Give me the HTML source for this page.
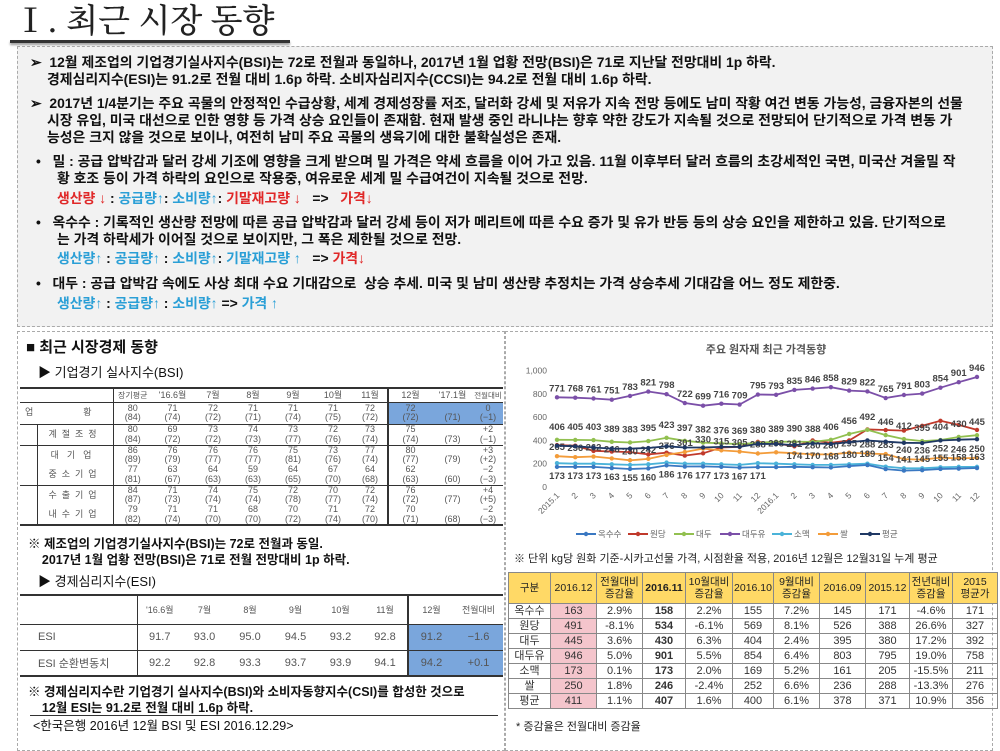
<!DOCTYPE html>
<html><head><meta charset="utf-8">
<style>
*{margin:0;padding:0;box-sizing:border-box}
body{width:1000px;height:739px;overflow:hidden;background:#fff;position:relative;font-family:"Liberation Sans","Noto Sans CJK KR","NanumGothic",sans-serif;color:#111}
.a{position:absolute;white-space:nowrap}
.t{font-size:13.9px;font-weight:bold;line-height:16px}
.r{color:#e02828}.b{color:#2a9fd6}
table{border-collapse:collapse;position:absolute;table-layout:fixed;font-family:"Liberation Sans","Noto Sans CJK KR",sans-serif}
.bsi td{font-size:9px;color:#555;text-align:center;line-height:9.5px;padding:0;white-space:nowrap;overflow:hidden}
.esi td{font-size:11px;color:#555;text-align:center;padding:0}
.pt td{font-size:11px;color:#333;text-align:center;border:1px solid #888;padding:0;line-height:14px}
.pt tr.h td{background:#ffd966;font-size:10.5px;line-height:12px;color:#222}
.pk{background:#f4c5cc}
</style></head><body>
<div class="a" style="left:14px;top:-2px;font-family:'Noto Serif CJK SC','Liberation Serif',serif;font-size:33px;line-height:42px;color:#222;font-weight:500">Ⅰ. 최근 시장 동향</div>
<div class="a" style="left:10px;top:40px;width:280px;height:3px;background:#333;box-shadow:0 2px 2px #999"></div>

<div class="a" style="left:17px;top:46px;width:976px;height:281px;background:#f2f2f2;border:1px dashed #aaa"></div>
<div class="a t" style="left:30px;top:54px">➢&nbsp; 12월 제조업의 기업경기실사지수(BSI)는 72로 전월과 동일하나, 2017년 1월 업황 전망(BSI)은 71로 지난달 전망대비 1p 하락.</div>
<div class="a t" style="left:47px;top:71px">경제심리지수(ESI)는 91.2로 전월 대비 1.6p 하락. 소비자심리지수(CCSI)는 94.2로 전월 대비 1.6p 하락.</div>
<div class="a t" style="left:30px;top:95px">➢&nbsp; 2017년 1/4분기는 주요 곡물의 안정적인 수급상황, 세계 경제성장률 저조, 달러화 강세 및 저유가 지속 전망 등에도 남미 작황 여건 변동 가능성, 금융자본의 선물</div>
<div class="a t" style="left:47px;top:112px">시장 유입, 미국 대선으로 인한 영향 등 가격 상승 요인들이 존재함. 현재 발생 중인 라니냐는 향후 약한 강도가 지속될 것으로 전망되어 단기적으로 가격 변동 가</div>
<div class="a t" style="left:47px;top:129px">능성은 크지 않을 것으로 보이나, 여전히 남미 주요 곡물의 생육기에 대한 불확실성은 존재.</div>
<div class="a t" style="left:36px;top:153px">•&nbsp;&nbsp; 밀 : 공급 압박감과 달러 강세 기조에 영향을 크게 받으며 밀 가격은 약세 흐름을 이어 가고 있음. 11월 이후부터 달러 흐름의 초강세적인 국면, 미국산 겨울밀 작</div>
<div class="a t" style="left:57px;top:170px">황 호조 등이 가격 하락의 요인으로 작용중, 여유로운 세계 밀 수급여건이 지속될 것으로 전망.</div>
<div class="a t" style="left:57px;top:190px"><span class="r">생산량 ↓</span> : <span class="b">공급량↑</span>: <span class="b">소비량↑</span>: <span class="r">기말재고량 ↓</span>&nbsp;&nbsp; =&gt;&nbsp;&nbsp; <span class="r">가격↓</span></div>
<div class="a t" style="left:36px;top:214px">•&nbsp;&nbsp; 옥수수 : 기록적인 생산량 전망에 따른 공급 압박감과 달러 강세 등이 저가 메리트에 따른 수요 증가 및 유가 반등 등의 상승 요인을 제한하고 있음. 단기적으로</div>
<div class="a t" style="left:57px;top:231px">는 가격 하락세가 이어질 것으로 보이지만, 그 폭은 제한될 것으로 전망.</div>
<div class="a t" style="left:57px;top:250px"><span class="b">생산량↑</span> : <span class="b">공급량↑</span> : <span class="b">소비량↑</span>: <span class="b">기말재고량 ↑</span>&nbsp;&nbsp; =&gt; <span class="r">가격↓</span></div>
<div class="a t" style="left:36px;top:275px">•&nbsp;&nbsp; 대두 : 공급 압박감 속에도 사상 최대 수요 기대감으로&nbsp; 상승 추세. 미국 및 남미 생산량 추정치는 가격 상승추세 기대감을 어느 정도 제한중.</div>
<div class="a t" style="left:57px;top:295px"><span class="b">생산량↑</span> : <span class="b">공급량↑</span> : <span class="b">소비량↑</span> =&gt; <span class="b">가격 ↑</span></div>

<div class="a" style="left:17px;top:331px;width:488px;height:420px;border:1px dashed #aaa"></div>
<div class="a" style="left:505px;top:331px;width:488px;height:420px;border:1px dashed #aaa"></div>

<div class="a" style="left:26px;top:338px;font-size:15px;font-weight:bold;line-height:20px">■ 최근 시장경제 동향</div>
<div class="a" style="left:38px;top:364px;font-size:13px;line-height:18px">▶ 기업경기 실사지수(BSI)</div>

<table class="bsi" style="left:20px;top:387px;width:483px;border-top:2px solid #333;border-bottom:2px solid #333">
<colgroup><col style="width:17px"><col style="width:76px"><col style="width:39px"><col style="width:41px"><col style="width:40px"><col style="width:40px"><col style="width:40px"><col style="width:40px"><col style="width:35px"><col style="width:44px"><col style="width:41px"><col style="width:30px"></colgroup>
<tr style="height:14px;border-bottom:1px solid #333"><td colspan="2"></td><td style="border-left:1px solid #333;font-size:8px">장기평균</td><td>'16.6월</td><td>7월</td><td>8월</td><td>9월</td><td>10월</td><td>11월</td><td style="border-left:2px solid #333">12월</td><td>'17.1월</td><td style="font-size:7.5px">전월대비</td></tr>
<tr style="height:22px;border-bottom:1px solid #333"><td colspan="2" style="text-align:left;padding-left:5px">업&nbsp;&nbsp;&nbsp;&nbsp;&nbsp;&nbsp;&nbsp;&nbsp;&nbsp;&nbsp;&nbsp;&nbsp;&nbsp;&nbsp;&nbsp;&nbsp;&nbsp;&nbsp;&nbsp;&nbsp;황</td><td style="border-left:1px solid #333">80<br>(84)</td><td>71<br>(74)</td><td>72<br>(72)</td><td>71<br>(71)</td><td>71<br>(74)</td><td>71<br>(75)</td><td>72<br>(72)</td><td style="border-left:2px solid #333;background:#7aa6dc">72<br>(72)</td><td style="background:#7aa6dc">&nbsp;<br>(71)</td><td style="background:#7aa6dc">0<br>(−1)</td></tr>
<tr style="height:21px;border-bottom:1px solid #333"><td></td><td style="border-left:1px solid #333;letter-spacing:5px">계절조정</td><td style="border-left:1px solid #333">80<br>(84)</td><td>69<br>(72)</td><td>73<br>(72)</td><td>74<br>(73)</td><td>73<br>(77)</td><td>72<br>(76)</td><td>73<br>(74)</td><td style="border-left:2px solid #333">75<br>(74)</td><td>&nbsp;<br>(73)</td><td>+2<br>(−1)</td></tr>
<tr style="height:20px"><td></td><td style="border-left:1px solid #333;letter-spacing:8px">대기업</td><td style="border-left:1px solid #333">86<br>(89)</td><td>76<br>(79)</td><td>76<br>(77)</td><td>76<br>(77)</td><td>75<br>(81)</td><td>73<br>(76)</td><td>77<br>(74)</td><td style="border-left:2px solid #333">80<br>(77)</td><td>&nbsp;<br>(79)</td><td>+3<br>(+2)</td></tr>
<tr style="height:20px;border-bottom:1px solid #333"><td></td><td style="border-left:1px solid #333;letter-spacing:5px">중소기업</td><td style="border-left:1px solid #333">77<br>(81)</td><td>63<br>(67)</td><td>64<br>(63)</td><td>59<br>(63)</td><td>64<br>(65)</td><td>67<br>(70)</td><td>64<br>(68)</td><td style="border-left:2px solid #333">62<br>(63)</td><td>&nbsp;<br>(60)</td><td>−2<br>(−3)</td></tr>
<tr style="height:20px"><td></td><td style="border-left:1px solid #333;letter-spacing:5px">수출기업</td><td style="border-left:1px solid #333">84<br>(87)</td><td>71<br>(73)</td><td>74<br>(74)</td><td>75<br>(74)</td><td>72<br>(78)</td><td>70<br>(77)</td><td>72<br>(74)</td><td style="border-left:2px solid #333">76<br>(72)</td><td>&nbsp;<br>(77)</td><td>+4<br>(+5)</td></tr>
<tr style="height:20px"><td></td><td style="border-left:1px solid #333;letter-spacing:5px">내수기업</td><td style="border-left:1px solid #333">79<br>(82)</td><td>71<br>(74)</td><td>71<br>(70)</td><td>68<br>(70)</td><td>70<br>(72)</td><td>71<br>(74)</td><td>72<br>(70)</td><td style="border-left:2px solid #333">70<br>(71)</td><td>&nbsp;<br>(68)</td><td>−2<br>(−3)</td></tr>
</table>

<div class="a" style="left:28px;top:536px;font-size:12.5px;font-weight:bold;line-height:16px">※ 제조업의 기업경기실사지수(BSI)는 72로 전월과 동일.<br>&nbsp;&nbsp;&nbsp;&nbsp;2017년 1월 업황 전망(BSI)은 71로 전월 전망대비 1p 하락.</div>
<div class="a" style="left:38px;top:573px;font-size:13px;line-height:18px">▶ 경제심리지수(ESI)</div>

<table class="esi" style="left:20px;top:594px;width:483px;border-top:2px solid #333;border-bottom:2px solid #333">
<colgroup><col style="width:117px"><col style="width:45px"><col style="width:45px"><col style="width:46px"><col style="width:45px"><col style="width:45px"><col style="width:45px"><col style="width:46px"><col style="width:49px"></colgroup>
<tr style="height:29px;border-bottom:1px solid #333;font-size:9px"><td></td><td style="border-left:1px solid #333;font-size:9px">'16.6월</td><td style="font-size:9px">7월</td><td style="font-size:9px">8월</td><td style="font-size:9px">9월</td><td style="font-size:9px">10월</td><td style="font-size:9px">11월</td><td style="border-left:2px solid #333;font-size:9px">12월</td><td style="font-size:9px">전월대비</td></tr>
<tr style="height:26px;border-bottom:1px solid #333"><td style="text-align:left;padding-left:18px">ESI</td><td style="border-left:1px solid #333">91.7</td><td>93.0</td><td>95.0</td><td>94.5</td><td>93.2</td><td>92.8</td><td style="border-left:2px solid #333;background:#7aa6dc">91.2</td><td style="background:#7aa6dc">−1.6</td></tr>
<tr style="height:26px"><td style="text-align:left;padding-left:18px">ESI 순환변동치</td><td style="border-left:1px solid #333">92.2</td><td>92.8</td><td>93.3</td><td>93.7</td><td>93.9</td><td>94.1</td><td style="border-left:2px solid #333;background:#7aa6dc">94.2</td><td style="background:#7aa6dc">+0.1</td></tr>
</table>

<div class="a" style="left:28px;top:684px;font-size:12.5px;font-weight:bold;line-height:16px">※ 경제심리지수란 기업경기 실사지수(BSI)와 소비자동향지수(CSI)를 합성한 것으로<br>&nbsp;&nbsp;&nbsp;&nbsp;12월 ESI는 91.2로 전월 대비 1.6p 하락.</div>
<div class="a" style="left:30px;top:715px;width:468px;height:1px;background:#333"></div>
<div class="a" style="left:33px;top:718px;font-size:12.5px;line-height:17px">&lt;한국은행 2016년 12월 BSI 및 ESI 2016.12.29&gt;</div>

<svg id="ch" class="a" style="left:0;top:0" width="1000" height="739"></svg>

<div class="a" style="left:514px;top:552px;font-size:11px;line-height:14px;color:#222">※ 단위 kg당 원화 기준-시카고선물 가격, 시점환율 적용, 2016년 12월은 12월31일 누계 평균</div>
<table class="pt" style="left:508px;top:572px;width:489px">
<colgroup><col style="width:42px"><col style="width:46px"><col style="width:46px"><col style="width:43px"><col style="width:47px"><col style="width:41px"><col style="width:46px"><col style="width:46px"><col style="width:44px"><col style="width:43px"><col style="width:45px"></colgroup>
<tr class="h" style="height:31px"><td>구분</td><td>2016.12</td><td>전월대비<br>증감율</td><td><b>2016.11</b></td><td>10월대비<br>증감율</td><td>2016.10</td><td>9월대비<br>증감율</td><td>2016.09</td><td>2015.12</td><td>전년대비<br>증감율</td><td>2015<br>평균가</td></tr>
<tr><td>옥수수</td><td class="pk">163</td><td>2.9%</td><td><b>158</b></td><td>2.2%</td><td>155</td><td>7.2%</td><td>145</td><td>171</td><td>-4.6%</td><td>171</td></tr>
<tr><td>원당</td><td class="pk">491</td><td>-8.1%</td><td><b>534</b></td><td>-6.1%</td><td>569</td><td>8.1%</td><td>526</td><td>388</td><td>26.6%</td><td>327</td></tr>
<tr><td>대두</td><td class="pk">445</td><td>3.6%</td><td><b>430</b></td><td>6.3%</td><td>404</td><td>2.4%</td><td>395</td><td>380</td><td>17.2%</td><td>392</td></tr>
<tr><td>대두유</td><td class="pk">946</td><td>5.0%</td><td><b>901</b></td><td>5.5%</td><td>854</td><td>6.4%</td><td>803</td><td>795</td><td>19.0%</td><td>758</td></tr>
<tr><td>소맥</td><td class="pk">173</td><td>0.1%</td><td><b>173</b></td><td>2.0%</td><td>169</td><td>5.2%</td><td>161</td><td>205</td><td>-15.5%</td><td>211</td></tr>
<tr><td>쌀</td><td class="pk">250</td><td>1.8%</td><td><b>246</b></td><td>-2.4%</td><td>252</td><td>6.6%</td><td>236</td><td>288</td><td>-13.3%</td><td>276</td></tr>
<tr><td>평균</td><td class="pk">411</td><td>1.1%</td><td><b>407</b></td><td>1.6%</td><td>400</td><td>6.1%</td><td>378</td><td>371</td><td>10.9%</td><td>356</td></tr>
</table>
<div class="a" style="left:516px;top:720px;font-size:11px;line-height:14px;color:#222">* 증감율은 전월대비 증감율</div>

<script>
(function(){
var s=document.getElementById('ch'),h='';
function X(i){return 557+i*18.26}
function Y(v){return 487-v*0.1163}
h+='<text x="766" y="353" font-size="11" font-weight="bold" fill="#555" text-anchor="middle" font-family="Liberation Sans,Noto Sans CJK KR,sans-serif">주요 원자재 최근 가격동향</text>';
[0,200,400,600,800,1000].forEach(function(v){h+='<text x="547" y="'+(Y(v)+3)+'" font-size="8.5" fill="#666" text-anchor="end" font-family="Liberation Sans,sans-serif">'+(v==1000?'1,000':v)+'</text>';});
var S=[
['#7b4fa8',[771,768,761,751,783,821,798,722,699,716,709,795,793,835,846,858,829,822,765,791,803,854,901,946],-6],
['#c0392b',[360,355,310,305,300,280,295,270,290,340,345,388,375,350,400,380,400,495,490,485,526,569,534,491],null],
['#92c050',[406,405,403,389,383,395,423,397,382,376,369,380,389,390,388,406,456,492,446,412,395,404,430,445],-10],
['#f39c3a',[265,256,262,246,230,242,276,301,330,315,305,288,298,291,280,280,295,288,283,240,236,252,246,250],-6],
['#4bb3d9',[205,200,200,195,190,195,210,200,200,195,190,205,200,195,190,190,195,200,175,161,161,169,173,173],null],
['#1f3864',[355,350,340,330,330,335,350,340,340,345,345,371,370,360,375,370,385,400,390,380,378,400,407,411],null],
['#3a78c2',[173,173,173,163,155,160,186,176,177,173,167,171,171,174,170,168,180,189,154,141,145,155,158,163],12]
];
S.forEach(function(a){var p=a[1].map(function(v,i){return X(i).toFixed(1)+','+Y(v).toFixed(1)}).join(' ');
h+='<polyline points="'+p+'" fill="none" stroke="'+a[0]+'" stroke-width="1.8"/>';
a[1].forEach(function(v,i){h+='<circle cx="'+X(i)+'" cy="'+Y(v)+'" r="2.2" fill="'+a[0]+'"/>';});
if(a[2]!==null){a[1].forEach(function(v,i){var dy=a[2];if(a[0]=='#3a78c2'&&i>=13)dy=-8;if(a[0]=='#3a78c2'&&i==12)return;h+='<text x="'+X(i)+'" y="'+(Y(v)+dy)+'" font-size="9.5" font-weight="bold" fill="#444" text-anchor="middle" font-family="Liberation Sans,sans-serif">'+v+'</text>';});}
});
var L=['2015.1','2','3','4','5','6','7','8','9','10','11','12','2016.1','2','3','4','5','6','7','8','9','10','11','12'];
L.forEach(function(t,i){h+='<text transform="translate('+(X(i)+3)+',496) rotate(-45)" font-size="8.5" fill="#666" text-anchor="end" font-family="Liberation Sans,sans-serif">'+t+'</text>';});
var G=[['#3a78c2','옥수수',590],['#c0392b','원당',642],['#92c050','대두',688],['#7b4fa8','대두유',734],['#4bb3d9','소맥',786],['#f39c3a','쌀',832],['#1f3864','평균',874]];
G.forEach(function(g){h+='<line x1="'+(g[2]-14)+'" y1="534" x2="'+(g[2]+6)+'" y2="534" stroke="'+g[0]+'" stroke-width="2"/><circle cx="'+(g[2]-4)+'" cy="534" r="2.2" fill="'+g[0]+'"/><text x="'+(g[2]+8)+'" y="537" font-size="8.5" fill="#666" font-family="Liberation Sans,Noto Sans CJK KR,sans-serif">'+g[1]+'</text>';});
s.innerHTML=h;
})();
</script>
</body></html>
